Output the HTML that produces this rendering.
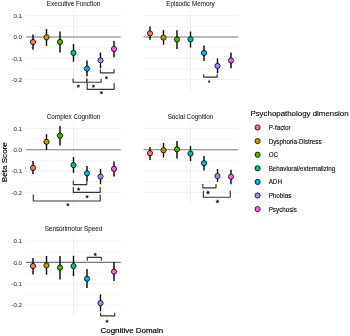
<!DOCTYPE html><html><head><meta charset="utf-8"><style>html,body{margin:0;padding:0;background:#fff;}svg{display:block;}#w{width:350px;height:336px;overflow:hidden;will-change:transform;}text{font-family:"Liberation Sans",sans-serif;}</style></head><body>
<div id="w"><svg width="350" height="336" viewBox="0 0 350 336">
<rect width="350" height="336" fill="#fff"/>
<line x1="26.0" x2="120.80" y1="26.35" y2="26.35" stroke="#EFEFEF" stroke-width="0.6"/>
<line x1="26.0" x2="120.80" y1="47.65" y2="47.65" stroke="#EFEFEF" stroke-width="0.6"/>
<line x1="26.0" x2="120.80" y1="68.95" y2="68.95" stroke="#EFEFEF" stroke-width="0.6"/>
<line x1="26.0" x2="120.80" y1="15.70" y2="15.70" stroke="#EBEBEB" stroke-width="0.7"/>
<line x1="26.0" x2="120.80" y1="58.30" y2="58.30" stroke="#EBEBEB" stroke-width="0.7"/>
<line x1="26.0" x2="120.80" y1="79.60" y2="79.60" stroke="#EBEBEB" stroke-width="0.7"/>
<line x1="73.50" x2="73.50" y1="9.70" y2="91.00" stroke="#EBEBEB" stroke-width="0.8"/>
<line x1="26.0" x2="120.80" y1="37.00" y2="37.00" stroke="#787878" stroke-width="1.05"/>
<text x="73.50" y="5.90" font-size="6.33" fill="#1a1a1a" stroke="#1a1a1a" stroke-width="0.06" text-anchor="middle">Executive Function</text>
<text x="22.1" y="18.00" font-size="6.25" fill="#4a4a4a" stroke="#4a4a4a" stroke-width="0.1" text-anchor="end">0.1</text>
<text x="22.1" y="39.30" font-size="6.25" fill="#4a4a4a" stroke="#4a4a4a" stroke-width="0.1" text-anchor="end">0.0</text>
<text x="22.1" y="60.60" font-size="6.25" fill="#4a4a4a" stroke="#4a4a4a" stroke-width="0.1" text-anchor="end">-0.1</text>
<text x="22.1" y="81.90" font-size="6.25" fill="#4a4a4a" stroke="#4a4a4a" stroke-width="0.1" text-anchor="end">-0.2</text>
<path d="M100.40,69.30 L100.40,72.80 L114.10,72.80 L114.10,69.30" fill="none" stroke="#363636" stroke-width="1.15" stroke-linejoin="round"/>
<polygon points="106.40,76.10 106.84,77.14 107.97,77.24 107.11,77.98 107.37,79.08 106.40,78.50 105.43,79.08 105.69,77.98 104.83,77.24 105.96,77.14" fill="#111" stroke="#111" stroke-width="0.3" stroke-linejoin="round"/>
<path d="M73.10,78.60 L73.10,82.20 L86.80,82.20 L86.80,78.60" fill="none" stroke="#363636" stroke-width="1.15" stroke-linejoin="round"/>
<polygon points="78.30,84.50 78.74,85.54 79.87,85.64 79.01,86.38 79.27,87.48 78.30,86.90 77.33,87.48 77.59,86.38 76.73,85.64 77.86,85.54" fill="#111" stroke="#111" stroke-width="0.3" stroke-linejoin="round"/>
<path d="M86.80,78.80 L86.80,82.20 L101.10,82.20 L101.10,78.80" fill="none" stroke="#363636" stroke-width="1.15" stroke-linejoin="round"/>
<polygon points="93.40,84.50 93.84,85.54 94.97,85.64 94.11,86.38 94.37,87.48 93.40,86.90 92.43,87.48 92.69,86.38 91.83,85.64 92.96,85.54" fill="#111" stroke="#111" stroke-width="0.3" stroke-linejoin="round"/>
<path d="M87.20,83.00 L87.20,89.30 L114.10,89.30 L114.10,83.00" fill="none" stroke="#363636" stroke-width="1.15" stroke-linejoin="round"/>
<polygon points="101.40,91.10 101.84,92.14 102.97,92.24 102.11,92.98 102.37,94.08 101.40,93.50 100.43,94.08 100.69,92.98 99.83,92.24 100.96,92.14" fill="#111" stroke="#111" stroke-width="0.3" stroke-linejoin="round"/>
<line x1="33.00" x2="33.00" y1="34.50" y2="49.80" stroke="#000" stroke-width="1.4"/>
<line x1="46.50" x2="46.50" y1="29.00" y2="45.90" stroke="#000" stroke-width="1.4"/>
<line x1="60.00" x2="60.00" y1="31.60" y2="52.60" stroke="#000" stroke-width="1.4"/>
<line x1="73.50" x2="73.50" y1="44.10" y2="61.70" stroke="#000" stroke-width="1.4"/>
<line x1="87.00" x2="87.00" y1="60.50" y2="76.20" stroke="#000" stroke-width="1.4"/>
<line x1="100.50" x2="100.50" y1="52.50" y2="68.20" stroke="#000" stroke-width="1.4"/>
<line x1="114.00" x2="114.00" y1="40.90" y2="57.20" stroke="#000" stroke-width="1.4"/>
<circle cx="33.00" cy="42.00" r="2.6" fill="#F8766D" stroke="#000" stroke-width="0.8"/>
<circle cx="46.50" cy="37.30" r="2.6" fill="#C49A00" stroke="#000" stroke-width="0.8"/>
<circle cx="60.00" cy="41.90" r="2.6" fill="#53B400" stroke="#000" stroke-width="0.8"/>
<circle cx="73.50" cy="52.90" r="2.6" fill="#00C094" stroke="#000" stroke-width="0.8"/>
<circle cx="87.00" cy="68.60" r="2.6" fill="#00B6EB" stroke="#000" stroke-width="0.8"/>
<circle cx="100.50" cy="60.30" r="2.6" fill="#A58AFF" stroke="#000" stroke-width="0.8"/>
<circle cx="114.00" cy="49.00" r="2.6" fill="#FB61D7" stroke="#000" stroke-width="0.8"/>
<line x1="143.4" x2="238.20" y1="26.35" y2="26.35" stroke="#EFEFEF" stroke-width="0.6"/>
<line x1="143.4" x2="238.20" y1="47.65" y2="47.65" stroke="#EFEFEF" stroke-width="0.6"/>
<line x1="143.4" x2="238.20" y1="68.95" y2="68.95" stroke="#EFEFEF" stroke-width="0.6"/>
<line x1="143.4" x2="238.20" y1="15.70" y2="15.70" stroke="#EBEBEB" stroke-width="0.7"/>
<line x1="143.4" x2="238.20" y1="58.30" y2="58.30" stroke="#EBEBEB" stroke-width="0.7"/>
<line x1="143.4" x2="238.20" y1="79.60" y2="79.60" stroke="#EBEBEB" stroke-width="0.7"/>
<line x1="190.50" x2="190.50" y1="9.70" y2="91.00" stroke="#EBEBEB" stroke-width="0.8"/>
<line x1="143.4" x2="238.20" y1="37.00" y2="37.00" stroke="#787878" stroke-width="1.05"/>
<text x="190.50" y="5.90" font-size="6.33" fill="#1a1a1a" stroke="#1a1a1a" stroke-width="0.06" text-anchor="middle">Episodic Memory</text>
<path d="M203.60,74.30 L203.60,77.10 L217.20,77.10 L217.20,74.30" fill="none" stroke="#363636" stroke-width="1.15" stroke-linejoin="round"/>
<polygon points="209.10,80.31 209.43,81.09 210.28,81.17 209.63,81.72 209.83,82.55 209.10,82.11 208.37,82.55 208.57,81.72 207.92,81.17 208.77,81.09" fill="#111" stroke="#111" stroke-width="0.3" stroke-linejoin="round"/>
<line x1="150.00" x2="150.00" y1="26.60" y2="39.80" stroke="#000" stroke-width="1.4"/>
<line x1="163.50" x2="163.50" y1="30.20" y2="44.60" stroke="#000" stroke-width="1.4"/>
<line x1="177.00" x2="177.00" y1="30.20" y2="49.10" stroke="#000" stroke-width="1.4"/>
<line x1="190.50" x2="190.50" y1="31.50" y2="47.50" stroke="#000" stroke-width="1.4"/>
<line x1="204.00" x2="204.00" y1="45.50" y2="61.10" stroke="#000" stroke-width="1.4"/>
<line x1="217.50" x2="217.50" y1="58.50" y2="73.10" stroke="#000" stroke-width="1.4"/>
<line x1="231.00" x2="231.00" y1="52.60" y2="68.30" stroke="#000" stroke-width="1.4"/>
<circle cx="150.00" cy="33.40" r="2.6" fill="#F8766D" stroke="#000" stroke-width="0.8"/>
<circle cx="163.50" cy="37.50" r="2.6" fill="#C49A00" stroke="#000" stroke-width="0.8"/>
<circle cx="177.00" cy="39.50" r="2.6" fill="#53B400" stroke="#000" stroke-width="0.8"/>
<circle cx="190.50" cy="39.30" r="2.6" fill="#00C094" stroke="#000" stroke-width="0.8"/>
<circle cx="204.00" cy="53.00" r="2.6" fill="#00B6EB" stroke="#000" stroke-width="0.8"/>
<circle cx="217.50" cy="65.90" r="2.6" fill="#A58AFF" stroke="#000" stroke-width="0.8"/>
<circle cx="231.00" cy="60.50" r="2.6" fill="#FB61D7" stroke="#000" stroke-width="0.8"/>
<line x1="26.0" x2="120.80" y1="139.00" y2="139.00" stroke="#EFEFEF" stroke-width="0.6"/>
<line x1="26.0" x2="120.80" y1="160.30" y2="160.30" stroke="#EFEFEF" stroke-width="0.6"/>
<line x1="26.0" x2="120.80" y1="181.60" y2="181.60" stroke="#EFEFEF" stroke-width="0.6"/>
<line x1="26.0" x2="120.80" y1="128.35" y2="128.35" stroke="#EBEBEB" stroke-width="0.7"/>
<line x1="26.0" x2="120.80" y1="170.95" y2="170.95" stroke="#EBEBEB" stroke-width="0.7"/>
<line x1="26.0" x2="120.80" y1="192.25" y2="192.25" stroke="#EBEBEB" stroke-width="0.7"/>
<line x1="73.50" x2="73.50" y1="122.35" y2="203.65" stroke="#EBEBEB" stroke-width="0.8"/>
<line x1="26.0" x2="120.80" y1="149.65" y2="149.65" stroke="#787878" stroke-width="1.05"/>
<text x="73.50" y="118.55" font-size="6.33" fill="#1a1a1a" stroke="#1a1a1a" stroke-width="0.06" text-anchor="middle">Complex Cognition</text>
<text x="22.1" y="130.65" font-size="6.25" fill="#4a4a4a" stroke="#4a4a4a" stroke-width="0.1" text-anchor="end">0.1</text>
<text x="22.1" y="151.95" font-size="6.25" fill="#4a4a4a" stroke="#4a4a4a" stroke-width="0.1" text-anchor="end">0.0</text>
<text x="22.1" y="173.25" font-size="6.25" fill="#4a4a4a" stroke="#4a4a4a" stroke-width="0.1" text-anchor="end">-0.1</text>
<text x="22.1" y="194.55" font-size="6.25" fill="#4a4a4a" stroke="#4a4a4a" stroke-width="0.1" text-anchor="end">-0.2</text>
<path d="M73.30,180.70 L73.30,184.60 L86.80,184.60 L86.80,180.70" fill="none" stroke="#363636" stroke-width="1.15" stroke-linejoin="round"/>
<polygon points="78.60,187.50 79.04,188.54 80.17,188.64 79.31,189.38 79.57,190.48 78.60,189.90 77.63,190.48 77.89,189.38 77.03,188.64 78.16,188.54" fill="#111" stroke="#111" stroke-width="0.3" stroke-linejoin="round"/>
<path d="M73.30,186.90 L73.30,192.40 L100.20,192.40 L100.20,186.90" fill="none" stroke="#363636" stroke-width="1.15" stroke-linejoin="round"/>
<polygon points="87.10,195.10 87.54,196.14 88.67,196.24 87.81,196.98 88.07,198.08 87.10,197.50 86.13,198.08 86.39,196.98 85.53,196.24 86.66,196.14" fill="#111" stroke="#111" stroke-width="0.3" stroke-linejoin="round"/>
<path d="M33.30,194.40 L33.30,201.00 L100.20,201.00 L100.20,194.40" fill="none" stroke="#363636" stroke-width="1.15" stroke-linejoin="round"/>
<polygon points="67.90,203.10 68.34,204.14 69.47,204.24 68.61,204.98 68.87,206.08 67.90,205.50 66.93,206.08 67.19,204.98 66.33,204.24 67.46,204.14" fill="#111" stroke="#111" stroke-width="0.3" stroke-linejoin="round"/>
<line x1="33.00" x2="33.00" y1="161.00" y2="174.30" stroke="#000" stroke-width="1.4"/>
<line x1="46.50" x2="46.50" y1="134.20" y2="149.90" stroke="#000" stroke-width="1.4"/>
<line x1="60.00" x2="60.00" y1="125.90" y2="145.40" stroke="#000" stroke-width="1.4"/>
<line x1="73.50" x2="73.50" y1="157.10" y2="172.80" stroke="#000" stroke-width="1.4"/>
<line x1="87.00" x2="87.00" y1="166.00" y2="181.10" stroke="#000" stroke-width="1.4"/>
<line x1="100.50" x2="100.50" y1="169.10" y2="184.20" stroke="#000" stroke-width="1.4"/>
<line x1="114.00" x2="114.00" y1="161.40" y2="176.40" stroke="#000" stroke-width="1.4"/>
<circle cx="33.00" cy="167.90" r="2.6" fill="#F8766D" stroke="#000" stroke-width="0.8"/>
<circle cx="46.50" cy="141.80" r="2.6" fill="#C49A00" stroke="#000" stroke-width="0.8"/>
<circle cx="60.00" cy="135.70" r="2.6" fill="#53B400" stroke="#000" stroke-width="0.8"/>
<circle cx="73.50" cy="165.10" r="2.6" fill="#00C094" stroke="#000" stroke-width="0.8"/>
<circle cx="87.00" cy="173.30" r="2.6" fill="#00B6EB" stroke="#000" stroke-width="0.8"/>
<circle cx="100.50" cy="176.50" r="2.6" fill="#A58AFF" stroke="#000" stroke-width="0.8"/>
<circle cx="114.00" cy="168.90" r="2.6" fill="#FB61D7" stroke="#000" stroke-width="0.8"/>
<line x1="143.4" x2="238.20" y1="139.00" y2="139.00" stroke="#EFEFEF" stroke-width="0.6"/>
<line x1="143.4" x2="238.20" y1="160.30" y2="160.30" stroke="#EFEFEF" stroke-width="0.6"/>
<line x1="143.4" x2="238.20" y1="181.60" y2="181.60" stroke="#EFEFEF" stroke-width="0.6"/>
<line x1="143.4" x2="238.20" y1="128.35" y2="128.35" stroke="#EBEBEB" stroke-width="0.7"/>
<line x1="143.4" x2="238.20" y1="170.95" y2="170.95" stroke="#EBEBEB" stroke-width="0.7"/>
<line x1="143.4" x2="238.20" y1="192.25" y2="192.25" stroke="#EBEBEB" stroke-width="0.7"/>
<line x1="190.50" x2="190.50" y1="122.35" y2="203.65" stroke="#EBEBEB" stroke-width="0.8"/>
<line x1="143.4" x2="238.20" y1="149.65" y2="149.65" stroke="#787878" stroke-width="1.05"/>
<text x="190.50" y="118.55" font-size="6.33" fill="#1a1a1a" stroke="#1a1a1a" stroke-width="0.06" text-anchor="middle">Social Cognition</text>
<path d="M202.80,184.00 L202.80,187.90 L216.00,187.90 L216.00,184.00" fill="none" stroke="#363636" stroke-width="1.15" stroke-linejoin="round"/>
<polygon points="208.00,190.70 208.49,191.87 209.76,191.98 208.80,192.81 209.09,194.05 208.00,193.39 206.91,194.05 207.20,192.81 206.24,191.98 207.51,191.87" fill="#111" stroke="#111" stroke-width="0.3" stroke-linejoin="round"/>
<path d="M203.40,190.70 L203.40,197.20 L230.30,197.20 L230.30,190.70" fill="none" stroke="#363636" stroke-width="1.15" stroke-linejoin="round"/>
<polygon points="217.50,199.60 217.99,200.77 219.26,200.88 218.30,201.71 218.59,202.95 217.50,202.29 216.41,202.95 216.70,201.71 215.74,200.88 217.01,200.77" fill="#111" stroke="#111" stroke-width="0.3" stroke-linejoin="round"/>
<line x1="150.00" x2="150.00" y1="147.10" y2="159.90" stroke="#000" stroke-width="1.4"/>
<line x1="163.50" x2="163.50" y1="143.00" y2="157.50" stroke="#000" stroke-width="1.4"/>
<line x1="177.00" x2="177.00" y1="140.90" y2="158.60" stroke="#000" stroke-width="1.4"/>
<line x1="190.50" x2="190.50" y1="145.80" y2="161.10" stroke="#000" stroke-width="1.4"/>
<line x1="204.00" x2="204.00" y1="156.00" y2="170.60" stroke="#000" stroke-width="1.4"/>
<line x1="217.50" x2="217.50" y1="169.10" y2="181.80" stroke="#000" stroke-width="1.4"/>
<line x1="231.00" x2="231.00" y1="169.80" y2="184.20" stroke="#000" stroke-width="1.4"/>
<circle cx="150.00" cy="153.20" r="2.6" fill="#F8766D" stroke="#000" stroke-width="0.8"/>
<circle cx="163.50" cy="150.20" r="2.6" fill="#C49A00" stroke="#000" stroke-width="0.8"/>
<circle cx="177.00" cy="149.30" r="2.6" fill="#53B400" stroke="#000" stroke-width="0.8"/>
<circle cx="190.50" cy="153.60" r="2.6" fill="#00C094" stroke="#000" stroke-width="0.8"/>
<circle cx="204.00" cy="163.10" r="2.6" fill="#00B6EB" stroke="#000" stroke-width="0.8"/>
<circle cx="217.50" cy="176.00" r="2.6" fill="#A58AFF" stroke="#000" stroke-width="0.8"/>
<circle cx="231.00" cy="176.70" r="2.6" fill="#FB61D7" stroke="#000" stroke-width="0.8"/>
<line x1="26.0" x2="120.80" y1="251.70" y2="251.70" stroke="#EFEFEF" stroke-width="0.6"/>
<line x1="26.0" x2="120.80" y1="273.00" y2="273.00" stroke="#EFEFEF" stroke-width="0.6"/>
<line x1="26.0" x2="120.80" y1="294.30" y2="294.30" stroke="#EFEFEF" stroke-width="0.6"/>
<line x1="26.0" x2="120.80" y1="241.05" y2="241.05" stroke="#EBEBEB" stroke-width="0.7"/>
<line x1="26.0" x2="120.80" y1="283.65" y2="283.65" stroke="#EBEBEB" stroke-width="0.7"/>
<line x1="26.0" x2="120.80" y1="304.95" y2="304.95" stroke="#EBEBEB" stroke-width="0.7"/>
<line x1="73.50" x2="73.50" y1="235.05" y2="316.35" stroke="#EBEBEB" stroke-width="0.8"/>
<line x1="26.0" x2="120.80" y1="262.35" y2="262.35" stroke="#787878" stroke-width="1.05"/>
<text x="73.50" y="231.25" font-size="6.33" fill="#1a1a1a" stroke="#1a1a1a" stroke-width="0.06" text-anchor="middle">Sensorimotor Speed</text>
<text x="22.1" y="243.35" font-size="6.25" fill="#4a4a4a" stroke="#4a4a4a" stroke-width="0.1" text-anchor="end">0.1</text>
<text x="22.1" y="264.65" font-size="6.25" fill="#4a4a4a" stroke="#4a4a4a" stroke-width="0.1" text-anchor="end">0.0</text>
<text x="22.1" y="285.95" font-size="6.25" fill="#4a4a4a" stroke="#4a4a4a" stroke-width="0.1" text-anchor="end">-0.1</text>
<text x="22.1" y="307.25" font-size="6.25" fill="#4a4a4a" stroke="#4a4a4a" stroke-width="0.1" text-anchor="end">-0.2</text>
<path d="M87.30,260.80 L87.30,257.40 L101.30,257.40 L101.30,260.80" fill="none" stroke="#363636" stroke-width="1.15" stroke-linejoin="round"/>
<polygon points="95.20,252.80 95.64,253.84 96.77,253.94 95.91,254.68 96.17,255.78 95.20,255.20 94.23,255.78 94.49,254.68 93.63,253.94 94.76,253.84" fill="#111" stroke="#111" stroke-width="0.3" stroke-linejoin="round"/>
<path d="M100.60,312.80 L100.60,315.80 L114.70,315.80 L114.70,312.80" fill="none" stroke="#363636" stroke-width="1.15" stroke-linejoin="round"/>
<polygon points="107.00,319.60 107.44,320.64 108.57,320.74 107.71,321.48 107.97,322.58 107.00,322.00 106.03,322.58 106.29,321.48 105.43,320.74 106.56,320.64" fill="#111" stroke="#111" stroke-width="0.3" stroke-linejoin="round"/>
<line x1="33.00" x2="33.00" y1="258.00" y2="274.40" stroke="#000" stroke-width="1.4"/>
<line x1="46.50" x2="46.50" y1="255.90" y2="274.70" stroke="#000" stroke-width="1.4"/>
<line x1="60.00" x2="60.00" y1="256.00" y2="279.60" stroke="#000" stroke-width="1.4"/>
<line x1="73.50" x2="73.50" y1="255.80" y2="276.20" stroke="#000" stroke-width="1.4"/>
<line x1="87.00" x2="87.00" y1="269.10" y2="287.90" stroke="#000" stroke-width="1.4"/>
<line x1="100.50" x2="100.50" y1="294.40" y2="311.40" stroke="#000" stroke-width="1.4"/>
<line x1="114.00" x2="114.00" y1="262.00" y2="280.90" stroke="#000" stroke-width="1.4"/>
<circle cx="33.00" cy="266.00" r="2.6" fill="#F8766D" stroke="#000" stroke-width="0.8"/>
<circle cx="46.50" cy="265.40" r="2.6" fill="#C49A00" stroke="#000" stroke-width="0.8"/>
<circle cx="60.00" cy="267.70" r="2.6" fill="#53B400" stroke="#000" stroke-width="0.8"/>
<circle cx="73.50" cy="266.10" r="2.6" fill="#00C094" stroke="#000" stroke-width="0.8"/>
<circle cx="87.00" cy="278.80" r="2.6" fill="#00B6EB" stroke="#000" stroke-width="0.8"/>
<circle cx="100.50" cy="303.10" r="2.6" fill="#A58AFF" stroke="#000" stroke-width="0.8"/>
<circle cx="114.00" cy="271.60" r="2.6" fill="#FB61D7" stroke="#000" stroke-width="0.8"/>
<text x="131.9" y="333.45" font-size="7.95" fill="#000" stroke="#000" stroke-width="0.18" text-anchor="middle">Cognitive Domain</text>
<text transform="translate(7.3,162.2) rotate(-90)" font-size="8.1" fill="#000" stroke="#000" stroke-width="0.15" text-anchor="middle">Beta Score</text>
<text x="250.4" y="115.8" font-size="7.9" fill="#000" stroke="#000" stroke-width="0.12">Psychopathology dimension</text>
<circle cx="257.6" cy="127.50" r="2.6" fill="#F8766D" stroke="#000" stroke-width="0.8"/>
<text x="268.7" y="130.00" font-size="6.28" fill="#000" stroke="#000" stroke-width="0.1">P-factor</text>
<circle cx="257.6" cy="141.10" r="2.6" fill="#C49A00" stroke="#000" stroke-width="0.8"/>
<text x="268.7" y="143.60" font-size="6.28" fill="#000" stroke="#000" stroke-width="0.1">Dysphoria-Distress</text>
<circle cx="257.6" cy="154.70" r="2.6" fill="#53B400" stroke="#000" stroke-width="0.8"/>
<text x="268.7" y="157.20" font-size="6.28" fill="#000" stroke="#000" stroke-width="0.1">OC</text>
<circle cx="257.6" cy="168.30" r="2.6" fill="#00C094" stroke="#000" stroke-width="0.8"/>
<text x="268.7" y="170.80" font-size="6.28" fill="#000" stroke="#000" stroke-width="0.1">Behavioral/externalizing</text>
<circle cx="257.6" cy="181.90" r="2.6" fill="#00B6EB" stroke="#000" stroke-width="0.8"/>
<text x="268.7" y="184.40" font-size="6.28" fill="#000" stroke="#000" stroke-width="0.1">ADH</text>
<circle cx="257.6" cy="195.50" r="2.6" fill="#A58AFF" stroke="#000" stroke-width="0.8"/>
<text x="268.7" y="198.00" font-size="6.28" fill="#000" stroke="#000" stroke-width="0.1">Phobias</text>
<circle cx="257.6" cy="209.10" r="2.6" fill="#FB61D7" stroke="#000" stroke-width="0.8"/>
<text x="268.7" y="211.60" font-size="6.28" fill="#000" stroke="#000" stroke-width="0.1">Psychosis</text>
</svg></div></body></html>
